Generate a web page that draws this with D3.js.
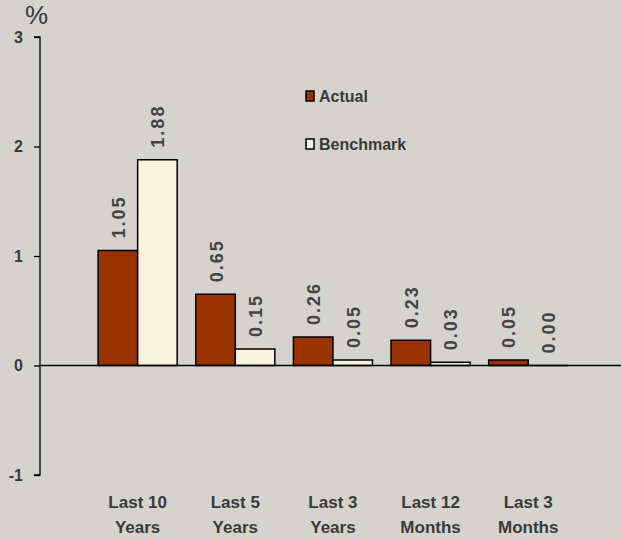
<!DOCTYPE html>
<html>
<head>
<meta charset="utf-8">
<script src="https://cdn.jsdelivr.net/npm/d3@7"></script>
<style>
  html, body { margin: 0; padding: 0; background: #d4d4cc; }
  svg { display: block; font-family: "Liberation Sans", Arial, sans-serif; }
</style>
</head>
<body>
<svg id="chart" width="621" height="540"></svg>
<script>
// Period categories (two-line labels)
const categories = ["Last 10|Years", "Last 5|Years", "Last 3|Years", "Last 12|Months", "Last 3|Months"];
const actual = [1.05, 0.65, 0.26, 0.23, 0.05];
const benchmark = [1.88, 0.15, 0.05, 0.03, 0.00];
const seriesNames = ["Actual", "Benchmark"];
const yTicks = [-1, 0, 1, 2, 3];

const colors = { Actual: "#993300", Benchmark: "#f4f4df" };
const textColor = "#3a3a3a";

const svg = d3.select("#chart");
const axisX = 40, plotRight = 621;

const y = d3.scaleLinear().domain([-1, 3]).range([475, 37]);
// Band scale: first category centred one step right of the value axis
const step = (plotRight - axisX) / 5.95;
const x = d3.scaleBand().domain(categories)
  .range([axisX + step / 2, axisX + step / 2 + step * 5]).paddingInner(0).paddingOuter(0);
const inner = d3.scaleBand().domain(seriesNames).range([0, step * 0.81]);
const barOffset = (step - step * 0.81) / 2;

// Value axis
const yAxis = d3.axisLeft(y).tickValues(yTicks).tickSize(6).tickFormat(d => String(d));
const gy = svg.append("g").attr("transform", `translate(${axisX},0)`).call(yAxis);
gy.select(".domain").attr("stroke", "#000").attr("stroke-width", 1.3).attr("d", `M-6,${y(3)}H0V${y(-1)}H-6`);
gy.selectAll(".tick line").attr("stroke", "#000").attr("stroke-width", 1.3);
gy.selectAll(".tick text").attr("x", -17).attr("fill", textColor)
  .style("font-size", "16px").style("font-weight", "bold").attr("font-family", "Liberation Sans, Arial, sans-serif");

svg.append("text").attr("x", 25).attr("y", 24).text("%")
  .attr("fill", textColor).style("font-size", "26px");

// Bars (paths so that a zero-value bar still shows its outline)
const data = [];
categories.forEach((c, i) => {
  data.push({ cat: c, series: "Actual", value: actual[i] });
  data.push({ cat: c, series: "Benchmark", value: benchmark[i] });
});

svg.append("g").selectAll("path").data(data).join("path")
  .attr("d", d => {
    const x0 = x(d.cat) + barOffset + inner(d.series);
    const x1 = x0 + inner.bandwidth();
    const y0 = y(0), y1 = y(d.value);
    return `M${x0},${y0}V${y1}H${x1}V${y0}Z`;
  })
  .attr("fill", d => colors[d.series])
  .attr("stroke", "#000").attr("stroke-width", 1.5);

// Zero line
svg.append("line").attr("x1", axisX).attr("x2", plotRight)
  .attr("y1", y(0)).attr("y2", y(0)).attr("stroke", "#000").attr("stroke-width", 1.3);

// Value labels, rotated
svg.append("g").selectAll("text").data(data).join("text")
  .attr("transform", d => {
    const cx = x(d.cat) + barOffset + inner(d.series) + inner.bandwidth() / 2;
    return `translate(${cx + 7},${y(d.value) - 12}) rotate(-90)`;
  })
  .attr("text-anchor", "start")
  .attr("fill", "#444")
  .style("font-size", "18px").style("font-weight", "bold").style("letter-spacing", "2px")
  .text(d => d.value.toFixed(2));

// Category labels
const catG = svg.append("g").selectAll("text").data(categories).join("text")
  .attr("x", d => x(d) + x.bandwidth() / 2)
  .attr("text-anchor", "middle")
  .attr("fill", textColor)
  .style("font-size", "17px").style("font-weight", "bold");
catG.each(function(d) {
  const parts = d.split("|");
  d3.select(this).selectAll("tspan").data(parts).join("tspan")
    .attr("x", x(d) + x.bandwidth() / 2)
    .attr("y", (p, j) => 508 + j * 25)
    .text(p => p);
});

// Legend
const legend = svg.append("g").selectAll("g").data(seriesNames).join("g")
  .attr("transform", (d, i) => `translate(306,${91 + i * 48})`);
legend.append("rect").attr("width", 8).attr("height", 10)
  .attr("fill", d => colors[d]).attr("stroke", "#000").attr("stroke-width", 1.5);
legend.append("text").attr("x", 13).attr("y", 11).text(d => d)
  .attr("fill", textColor).style("font-size", "16px").style("font-weight", "bold");
</script>
</body>
</html>
